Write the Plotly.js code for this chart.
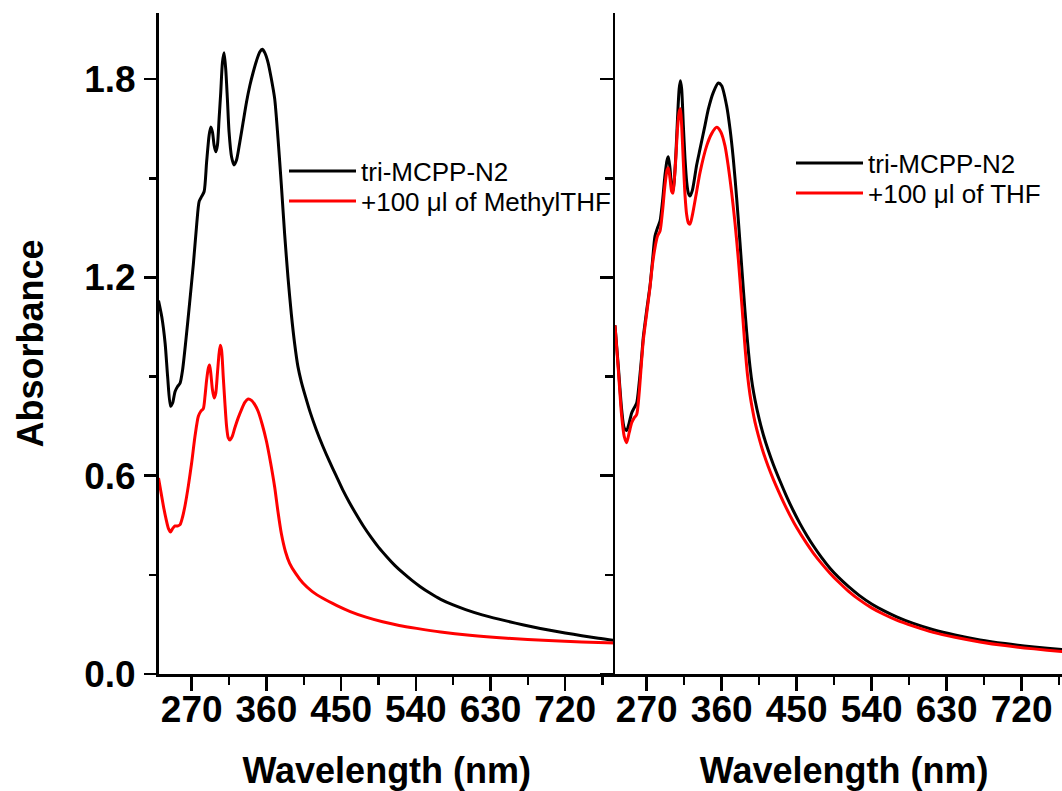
<!DOCTYPE html>
<html>
<head>
<meta charset="utf-8">
<script src="https://cdn.plot.ly/plotly-3.0.1.min.js"></script>
<style>
html,body{margin:0;padding:0;overflow:hidden;background:#ffffff;}
#chart{width:1080px;height:791px;}
</style>
</head>
<body>
<div id="chart"></div>
<script>
// ---------- Data ----------
// Left panel: tri-MCPP-N2 (black)
const wlLeftN2 = [230,234,238,241,244.5,247,250,253,256,259,263,267,272,276,279,282,285,288,291,293,295,297,299,301,303,305,307,309,311,313,315,318,321,324,328,332,336,340,344,348,352,355,358,362,366,370,374,378,382,386,390,394,398,402,407,413,420,428,436,444,452,460,468,477,486,495,505,515,525,535,545,557,570,585,600,620,640,660,680,700,720,740,760,780];
const absLeftN2 = [1.13,1.08,1.00,0.90,0.81,0.82,0.855,0.87,0.88,0.92,1.01,1.11,1.24,1.36,1.43,1.445,1.46,1.55,1.63,1.655,1.64,1.60,1.58,1.60,1.68,1.76,1.85,1.88,1.83,1.74,1.64,1.565,1.54,1.555,1.61,1.67,1.73,1.78,1.82,1.855,1.882,1.89,1.88,1.85,1.80,1.74,1.62,1.48,1.33,1.20,1.09,1.00,0.93,0.885,0.84,0.79,0.74,0.689,0.643,0.600,0.557,0.519,0.484,0.447,0.414,0.384,0.355,0.328,0.305,0.284,0.265,0.245,0.226,0.209,0.195,0.179,0.166,0.154,0.143,0.133,0.124,0.116,0.108,0.101];

// Left panel: +100 ul of MethylTHF (red)
const wlLeftMTHF = [230,233,236,239,242,244.5,247,250,253,256,259,262,266,270,274,278,281,284,286,288,290,291.5,293,295,297,299,301,303,304.5,306,308,310,312,314,316,319,322,326,330,334,338,342,346,350,355,360,365,370,374,378,383,388,395,404,415,428,445,461,480,500,520,541,570,605,650,700,740,780];
const absLeftMTHF = [0.593,0.55,0.507,0.47,0.44,0.43,0.44,0.448,0.448,0.452,0.475,0.51,0.57,0.64,0.72,0.78,0.795,0.803,0.84,0.89,0.925,0.935,0.91,0.86,0.835,0.85,0.91,0.97,0.995,0.98,0.90,0.82,0.75,0.715,0.708,0.72,0.745,0.775,0.80,0.822,0.832,0.828,0.815,0.795,0.755,0.705,0.64,0.565,0.49,0.425,0.37,0.335,0.305,0.275,0.25,0.229,0.207,0.189,0.172,0.158,0.147,0.138,0.127,0.117,0.108,0.101,0.097,0.094];

// Right panel: tri-MCPP-N2 (black)
const wlRightN2 = [232,236,240,243,246,249,252,255,258,261,264,266,270,274,277,280,283,286,289,292,294.5,296,298,300,301.5,303,305,307,309,310.5,312,314,316,318,320,322,325,330,334,340,344,350,356,360,366,370,374,378,382,386,390,394,397,400,405,410,416,422,430,438,446,454,462,470,480,490,500,512,525,540,555,570,590,614,640,670,700,735,768,782];
const absRightN2 = [1.055,0.93,0.80,0.745,0.737,0.76,0.79,0.805,0.82,0.88,0.96,1.02,1.10,1.174,1.25,1.325,1.35,1.37,1.43,1.51,1.555,1.565,1.53,1.475,1.46,1.49,1.57,1.68,1.77,1.795,1.77,1.66,1.56,1.49,1.455,1.446,1.465,1.54,1.588,1.66,1.709,1.76,1.788,1.78,1.719,1.65,1.558,1.44,1.305,1.165,1.035,0.93,0.872,0.83,0.772,0.724,0.676,0.634,0.584,0.537,0.494,0.455,0.420,0.388,0.352,0.320,0.293,0.265,0.238,0.212,0.191,0.173,0.153,0.134,0.118,0.103,0.092,0.082,0.074,0.071];

// Right panel: +100 ul of THF (red)
const wlRightTHF = [232,236,240,243,246,249,252,255,258,261,264,266,270,274,277,280,283,286,289,292,294.5,296,298,300,301.5,303,305,307,309,310.5,312,314,316,318,320,322,325,330,334,342,348,354,359,364,368,372,376,380,384,388,391,394,397,400,404,410,416,422,428,434,442,450,462,470,480,490,500,512,525,540,555,570,590,614,640,670,700,735,768,782];
const absRightTHF = [1.055,0.92,0.78,0.72,0.70,0.73,0.76,0.775,0.785,0.85,0.95,1.01,1.09,1.17,1.24,1.29,1.325,1.34,1.40,1.48,1.525,1.532,1.50,1.46,1.455,1.49,1.56,1.65,1.70,1.71,1.66,1.55,1.45,1.39,1.365,1.361,1.39,1.46,1.517,1.598,1.635,1.654,1.64,1.598,1.535,1.457,1.365,1.255,1.125,0.99,0.905,0.845,0.80,0.762,0.722,0.670,0.627,0.589,0.554,0.521,0.480,0.443,0.395,0.366,0.334,0.305,0.279,0.251,0.225,0.200,0.180,0.163,0.145,0.126,0.111,0.097,0.086,0.076,0.068,0.065];

const legendLeftNames = ['tri-MCPP-N2', '+100 \u03bcl of MethylTHF'];
const legendRightNames = ['tri-MCPP-N2', '+100 \u03bcl of THF'];
const xTickVals = [270, 360, 450, 540, 630, 720];
const yTickVals = [0.0, 0.6, 1.2, 1.8];
const yTickText = ['0.0', '0.6', '1.2', '1.8'];

// ---------- Layout helpers ----------
const W = 1080, H = 791;
const FONT = 'Arial, "Liberation Sans", sans-serif';
const lineStyle = (c) => ({color: c, width: 3, shape: 'spline', smoothing: 0.7});

const traces = [
  {x: wlLeftN2, y: absLeftN2, type: 'scatter', mode: 'lines', name: legendLeftNames[0], line: lineStyle('#000000'), xaxis: 'x', yaxis: 'y', legend: 'legend'},
  {x: wlLeftMTHF, y: absLeftMTHF, type: 'scatter', mode: 'lines', name: legendLeftNames[1], line: lineStyle('#ff0000'), xaxis: 'x', yaxis: 'y', legend: 'legend2'},
  {x: wlRightN2, y: absRightN2, type: 'scatter', mode: 'lines', name: legendRightNames[0], line: lineStyle('#000000'), xaxis: 'x2', yaxis: 'y2', legend: 'legend3'},
  {x: wlRightTHF, y: absRightTHF, type: 'scatter', mode: 'lines', name: legendRightNames[1], line: lineStyle('#ff0000'), xaxis: 'x2', yaxis: 'y2', legend: 'legend4'}
];

const xDomL = [158.5 / W, 615 / W];
const xDomR = [615 / W, 1073.3 / W];
const yDom = [(H - 674) / H, (H - 13) / H];

const tickFont = {family: FONT, size: 37, color: '#000', weight: 'bold'};
const titleFont = {family: FONT, size: 36, color: '#000', weight: 'bold'};

function bottomAxis(domain, range) {
  return {
    domain: domain, range: range, autorange: false,
    tickvals: xTickVals, ticks: 'outside', ticklen: 14, tickwidth: 2.5, tickcolor: '#000',
    minor: {dtick: 45, tick0: 270, ticks: 'outside', ticklen: 8, tickwidth: 2.5, tickcolor: '#000'},
    showline: true, linewidth: 2.5, linecolor: '#000', showgrid: false, zeroline: false,
    tickfont: tickFont, tickangle: 0, ticklabelstandoff: -13,
    title: {text: 'Wavelength (nm)', font: titleFont, standoff: 30}
  };
}
function topAxis(over, anchor) {
  return {
    overlaying: over, anchor: anchor, side: 'top', range: [0, 10], autorange: false,
    dtick: 2, tick0: 0, ticks: 'inside', ticklen: 13, tickwidth: 2.5, tickcolor: '#000',
    minor: {dtick: 1, tick0: 0, ticks: 'inside', ticklen: 7, tickwidth: 2.5, tickcolor: '#000'},
    showticklabels: false, showline: true, linewidth: 2.5, linecolor: '#000', showgrid: false, zeroline: false
  };
}
function legendAt(xPx, yPx) {
  return {
    x: xPx / W, y: (H - yPx) / H, xanchor: 'left', yanchor: 'middle',
    bgcolor: 'rgba(0,0,0,0)', borderwidth: 0, itemwidth: 67, tracegroupgap: 0,
    font: {family: FONT, size: 26, color: '#000'}
  };
}

const layout = {
  width: W, height: H,
  margin: {l: 0, r: 0, t: 0, b: 0, pad: 0},
  paper_bgcolor: '#fff', plot_bgcolor: '#fff',
  font: {family: FONT, color: '#000'},
  xaxis: Object.assign(bottomAxis(xDomL, [230, 780]), {anchor: 'y'}),
  xaxis2: Object.assign(bottomAxis(xDomR, [232, 782]), {anchor: 'y2'}),
  xaxis3: topAxis('x', 'y'),
  xaxis4: topAxis('x2', 'y2'),
  yaxis: {
    domain: yDom, anchor: 'x', range: [0, 2.0], autorange: false,
    tickvals: yTickVals, ticktext: yTickText,
    ticks: 'outside', ticklen: 12, tickwidth: 2.5, tickcolor: '#000',
    minor: {dtick: 0.3, tick0: 0, ticks: 'outside', ticklen: 7, tickwidth: 2.5, tickcolor: '#000'},
    showline: true, linewidth: 2.5, linecolor: '#000', showgrid: false, zeroline: false,
    tickfont: tickFont, ticklabelstandoff: 1,
    title: {text: 'Absorbance', font: titleFont, standoff: 30}
  },
  yaxis2: {
    domain: yDom, anchor: 'x2', range: [0, 2.0], autorange: false,
    tickvals: yTickVals, showticklabels: false,
    ticks: 'outside', ticklen: 13, tickwidth: 2.5, tickcolor: '#000',
    minor: {dtick: 0.3, tick0: 0, ticks: 'outside', ticklen: 8, tickwidth: 2.5, tickcolor: '#000'},
    showline: true, linewidth: 2.5, linecolor: '#000', showgrid: false, zeroline: false
  },
  yaxis3: {
    overlaying: 'y2', anchor: 'x2', side: 'right', range: [0, 2.0], autorange: false,
    dtick: 0.4, tick0: 0, ticks: 'inside', ticklen: 15, tickwidth: 2.5, tickcolor: '#000',
    showticklabels: false, showline: true, linewidth: 2.5, linecolor: '#000', showgrid: false, zeroline: false
  },
  showlegend: true,
  legend: legendAt(284, 171),
  legend2: legendAt(284, 201),
  legend3: legendAt(791, 163),
  legend4: legendAt(791, 193)
};

Plotly.newPlot('chart', traces, layout, {staticPlot: true, displayModeBar: false});
</script>
</body>
</html>
